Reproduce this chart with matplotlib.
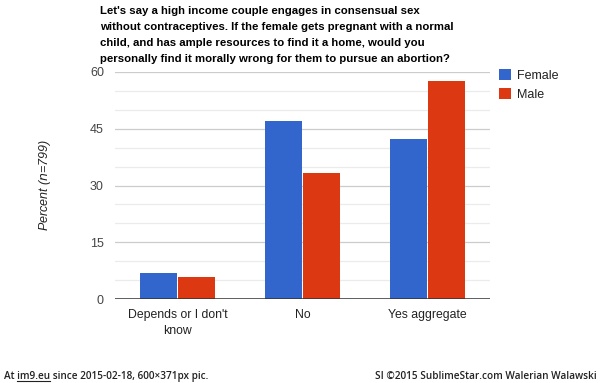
import matplotlib
matplotlib.use("Agg")
import matplotlib.pyplot as plt
from matplotlib.lines import Line2D
import numpy as np

categories = ["Depends or I don't\nknow", "No", "Yes aggregate"]
female = [6.9, 47.0, 42.3]
male = [6.0, 33.4, 57.5]
series_names = ["Female", "Male"]
yticks = [0, 15, 30, 45, 60]
title = ("Let's say a high income couple engages in consensual sex\n"
         "without contraceptives. If the female gets pregnant with a normal\n"
         "child, and has ample resources to find it a home, would you\n"
         "personally find it morally wrong for them to pursue an abortion?")

plt.rcParams['font.family'] = ['Liberation Sans', 'DejaVu Sans']
fig = plt.figure(figsize=(6, 3.83), dpi=100)
ax = fig.add_axes([115/600, 1-299.3/383, 375/600, (299.3-71.7)/383])

x = np.arange(len(categories))
w = 0.296
c_f, c_m = '#3366CC', '#DC3912'
ax.bar(x - w/2 - 0.004, female, w, color=c_f, label=series_names[0], zorder=3)
ax.bar(x + w/2 + 0.004, male, w, color=c_m, label=series_names[1], zorder=3)

ax.set_xlim(-0.5, 2.5)
ax.set_ylim(0, 60)
for v in np.arange(5, 60, 5):
    if v % 15 != 0:
        ax.axhline(v, color='#ebebeb', lw=0.9, zorder=1)
for v in yticks[1:]:
    ax.axhline(v, color='#cccccc', lw=0.9, zorder=1)
ax.axhline(0, color='#333333', lw=1.1, zorder=4)
ax.set_yticks(yticks)
ax.set_yticklabels([str(t) for t in yticks], color='#444444', fontsize=9)
ax.set_xticks(x)
ax.set_xticklabels(categories, color='#222222', fontsize=8.8, linespacing=1.45)
ax.tick_params(axis='both', length=0, pad=8)
ax.tick_params(axis='x', pad=7)
for s in ax.spines.values():
    s.set_visible(False)

fig.text(45/600, 1-185/383, "Percent ($\\it{n}$=799)", rotation=90, ha='center', va='center',
         fontsize=9, style='italic', color='#222222')

fig.text(100/600, 1-6.5/383, title, ha='left', va='top', fontsize=8.2, fontweight='bold',
         color='#000000', linespacing=1.72)

leg = ax.legend(loc='upper left', bbox_to_anchor=(1.01, 1.035), frameon=False, fontsize=9,
                handlelength=1.0, handleheight=1.0, handletextpad=0.5, labelspacing=0.5,
                borderaxespad=0.0)
for t in leg.get_texts():
    t.set_color('#222222')

foot_fam = ['Open Sans', 'DejaVu Sans']
fy = 1-376/383
t1 = fig.text(4/600, fy, "At im9.eu since 2015-02-18, 600\u00d7371px pic.", ha='left', va='center',
              fontsize=7.2, family=foot_fam, fontweight='semibold', color='#222222')
fig.text(597/600, fy, "SI \u00a92015 SublimeStar.com Walerian Walawski", ha='right', va='center',
         fontsize=7.2, family=foot_fam, fontweight='semibold', color='#222222')
# underline "im9.eu"
r = fig.canvas.get_renderer()
ta = fig.text(4/600, fy, "At ", ha='left', va='center', fontsize=7.2, family=foot_fam,
              fontweight='semibold', alpha=0)
tb = fig.text(4/600, fy, "At im9.eu", ha='left', va='center', fontsize=7.2, family=foot_fam,
              fontweight='semibold', alpha=0)
x0 = ta.get_window_extent(r).x1
x1 = tb.get_window_extent(r).x1
ybase = fy * 383 - 5
fig.add_artist(Line2D([x0/600, x1/600], [ybase/383, ybase/383], color='#222222', lw=0.8,
                      transform=fig.transFigure))

fig.savefig("out.png", dpi=100)
